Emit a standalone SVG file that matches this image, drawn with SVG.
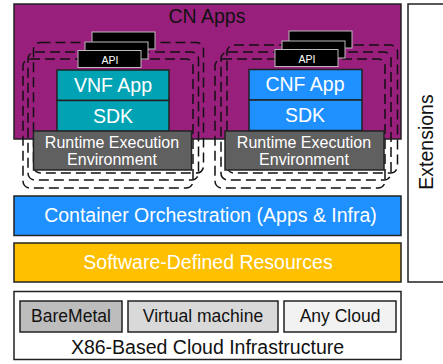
<svg xmlns="http://www.w3.org/2000/svg" width="443" height="364" viewBox="0 0 443 364">
<style>
text{font-family:"Liberation Sans",Arial,sans-serif;text-anchor:middle}
.w{fill:#fff}.k{fill:#111}
.box{stroke:#222;stroke-width:1.5}
.api{fill:#000;stroke:#bbb;stroke-width:1}
.dash{fill:none;stroke:#111;stroke-width:1.5;stroke-dasharray:10 5}
.f19{font-size:19.5px}.f17{font-size:17.5px}.f16{font-size:16px}
</style>
<rect width="443" height="364" fill="#fff"/>
<g id="extensions"><path d="M443 4H408V282H443" fill="#fff" stroke="#222" stroke-width="1.5"/><text class="k f19" transform="translate(433 142) rotate(-90)">Extensions</text></g>
<g id="cn-apps"><rect class="box" x="14" y="4" width="387" height="135" fill="#991f7c"/><text class="k f19" x="207" y="23">CN Apps</text></g>
<g id="connectors">
<rect class="dash" x="33.500" y="42.500" width="170" height="130.500" rx="7"/>
<rect class="dash" x="28" y="52" width="170.500" height="128" rx="7"/>
<rect class="dash" x="23" y="59" width="170" height="129" rx="7"/>
<rect class="dash" x="227" y="45" width="170.500" height="128" rx="7"/>
<rect class="dash" x="221" y="52" width="170" height="128" rx="7"/>
<rect class="dash" x="215" y="59" width="170" height="129" rx="7"/>
</g>
<g id="api-left"><rect class="api" x="92" y="32" width="63" height="17"/><rect class="api" x="85" y="42" width="63" height="17"/><rect class="api" x="78" y="50.500" width="63" height="17"/><text class="w" x="110" y="64" font-size="10.500">API</text></g>
<g id="api-right"><rect class="api" x="289" y="31" width="63" height="17"/><rect class="api" x="282" y="41" width="63" height="17"/><rect class="api" x="275" y="49.500" width="63" height="17"/><text class="w" x="307" y="63" font-size="10.500">API</text></g>
<g id="vnf-app"><rect class="box" x="57" y="70" width="112" height="30.500" fill="#00a3b4"/><text class="w f19" x="113" y="91.500">VNF App</text></g>
<g id="vnf-sdk"><rect class="box" x="57" y="100.500" width="112" height="31" fill="#00a3b4"/><text class="w f19" x="113" y="122.500">SDK</text></g>
<g id="cnf-app"><rect class="box" x="249" y="69.500" width="113" height="30.500" fill="#1e90ff"/><text class="w f19" x="305" y="91">CNF App</text></g>
<g id="cnf-sdk"><rect class="box" x="249" y="100" width="113" height="30.500" fill="#1e90ff"/><text class="w f19" x="305" y="122">SDK</text></g>
<g id="runtime-left"><rect class="box" x="33.500" y="131" width="158" height="39" fill="#606060"/><text class="w f16" x="112" y="147.500">Runtime Execution</text><text class="w f16" x="112" y="164.500">Environment</text></g>
<g id="runtime-right"><rect class="box" x="225" y="131" width="159" height="39" fill="#606060"/><text class="w f16" x="304" y="147.500">Runtime Execution</text><text class="w f16" x="304" y="164.500">Environment</text></g>
<g id="orchestration"><rect class="box" x="14" y="196" width="387" height="39.500" fill="#1e90ff"/><text class="w f19" x="210.500" y="222">Container Orchestration (Apps &amp; Infra)</text></g>
<g id="sdr"><rect class="box" x="14" y="243" width="387" height="39" fill="#ffc000"/><text class="w f19" x="208" y="269">Software-Defined Resources</text></g>
<g id="infrastructure"><rect class="box" x="14" y="291.500" width="387" height="68" fill="#fff"/><text class="k f19" x="207.500" y="353.500">X86-Based Cloud Infrastructure</text></g>
<g id="baremetal"><rect class="box" x="20" y="301" width="102" height="31" fill="#bdbdbd"/><text class="k f17" x="71" y="322">BareMetal</text></g>
<g id="vm"><rect class="box" x="128" y="301" width="150" height="31" fill="#d9d9d9"/><text class="k f17" x="203" y="322">Virtual machine</text></g>
<g id="any-cloud"><rect class="box" x="284" y="301" width="112" height="31" fill="#f2f2f2"/><text class="k f17" x="340" y="322">Any Cloud</text></g>
</svg>
